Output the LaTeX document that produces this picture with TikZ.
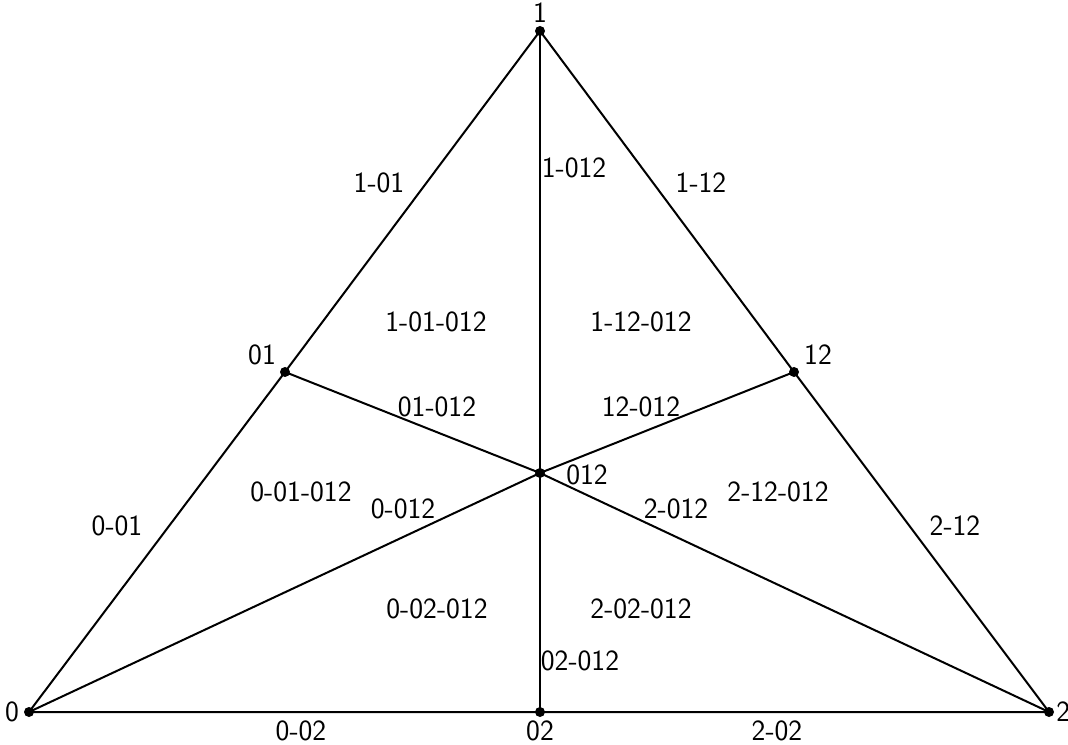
\documentclass[tikz,border=0pt]{standalone}
\begin{document}
\begin{tikzpicture}[x=0.75pt,y=-0.75pt,
  edge/.style={line width=1.5pt},
  pt/.style={circle,fill=black,inner sep=0pt,minimum size=7.5pt},
  lab/.style={inner sep=0pt,font=\sffamily\fontsize{22}{26}\selectfont}]
\useasboundingbox (0,0) rectangle (1068,745);
\node[pt] (v0) at (29,712) {};
\node[pt] (v1) at (540,31) {};
\node[pt] (v2) at (1049,712) {};
\node[pt] (v01) at (285,372) {};
\node[pt] (v12) at (794,372) {};
\node[pt] (v02) at (540,712) {};
\node[pt] (v012) at (540,473) {};
\draw[edge] (v0.center) -- (v01.center) -- (v1.center) -- (v12.center) -- (v2.center) -- (v02.center) -- cycle;
\draw[edge] (v1.center) -- (v012.center) -- (v02.center);
\draw[edge] (v01.center) -- (v012.center) -- (v2.center);
\draw[edge] (v0.center) -- (v012.center) -- (v12.center);
\node[lab] (l1) at (540,13) {1};
\node[lab] (l0) at (12,712) {0};
\node[lab,anchor=west] (l2) at (1056,712) {2};
\node[lab] (l01) at (262,355) {01};
\node[lab] (l12) at (818,355) {12};
\node[lab] (l012) at (587,475) {012};
\node[lab] (l02) at (540,731) {02};
\node[lab] (a1) at (379,183) {1-01};
\node[lab] (a2) at (574,168) {1-012};
\node[lab] (a3) at (701,183) {1-12};
\node[lab] (a4) at (436,322) {1-01-012};
\node[lab] (a5) at (641,322) {1-12-012};
\node[lab] (a6) at (437,407) {01-012};
\node[lab] (a7) at (641,407) {12-012};
\node[lab] (a8) at (301,492) {0-01-012};
\node[lab] (a9) at (403,509) {0-012};
\node[lab] (a10) at (676,509) {2-012};
\node[lab] (a11) at (778,492) {2-12-012};
\node[lab] (a12) at (117,526) {0-01};
\node[lab] (a13) at (955,526) {2-12};
\node[lab] (a14) at (437,609) {0-02-012};
\node[lab] (a15) at (641,609) {2-02-012};
\node[lab] (a16) at (580,661) {02-012};
\node[lab] (a17) at (301,731) {0-02};
\node[lab] (a18) at (777,731) {2-02};
\end{tikzpicture}
\end{document}
